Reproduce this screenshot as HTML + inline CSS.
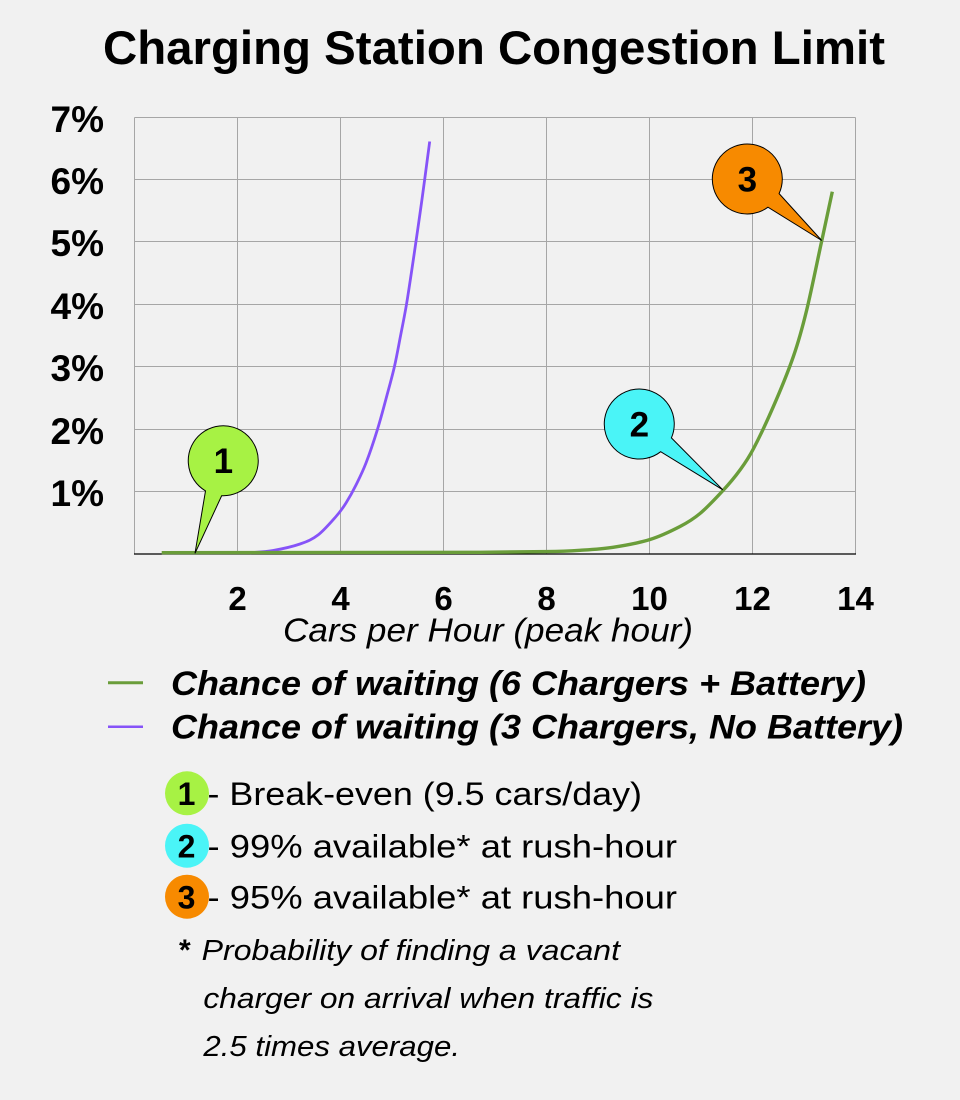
<!DOCTYPE html>
<html>
<head>
<meta charset="utf-8">
<style>
html,body{margin:0;padding:0;background:#f1f1f1;}
svg{display:block;}
text{font-family:"Liberation Sans",Arial,sans-serif;fill:#000;}
</style>
</head>
<body>
<svg width="960" height="1100" viewBox="0 0 960 1100" xmlns="http://www.w3.org/2000/svg">
<rect x="0" y="0" width="960" height="1100" fill="#f1f1f1"/>

<!-- Title -->
<text x="103" y="64" font-size="47" font-weight="bold" textLength="782" lengthAdjust="spacingAndGlyphs">Charging Station Congestion Limit</text>

<!-- Grid -->
<g stroke="#a6a6a6" stroke-width="1" fill="none">
  <line x1="134.5" y1="117.5" x2="134.5" y2="554"/>
  <line x1="237.5" y1="117.5" x2="237.5" y2="554"/>
  <line x1="340.5" y1="117.5" x2="340.5" y2="554"/>
  <line x1="443.5" y1="117.5" x2="443.5" y2="554"/>
  <line x1="546.5" y1="117.5" x2="546.5" y2="554"/>
  <line x1="649.5" y1="117.5" x2="649.5" y2="554"/>
  <line x1="752.5" y1="117.5" x2="752.5" y2="554"/>
  <line x1="855.5" y1="117.5" x2="855.5" y2="554"/>
  <line x1="134.5" y1="117.5" x2="855.5" y2="117.5"/>
  <line x1="134.5" y1="179.5" x2="855.5" y2="179.5"/>
  <line x1="134.5" y1="241.5" x2="855.5" y2="241.5"/>
  <line x1="134.5" y1="304.5" x2="855.5" y2="304.5"/>
  <line x1="134.5" y1="366.5" x2="855.5" y2="366.5"/>
  <line x1="134.5" y1="429.5" x2="855.5" y2="429.5"/>
  <line x1="134.5" y1="491.5" x2="855.5" y2="491.5"/>
</g>
<line x1="134" y1="554" x2="856" y2="554" stroke="#000" stroke-width="1.2"/>

<!-- Y labels -->
<g font-size="37" font-weight="bold" text-anchor="end">
  <text x="104" y="132">7%</text>
  <text x="104" y="194">6%</text>
  <text x="104" y="256">5%</text>
  <text x="104" y="319">4%</text>
  <text x="104" y="381">3%</text>
  <text x="104" y="444">2%</text>
  <text x="104" y="506">1%</text>
</g>

<!-- X labels -->
<g font-size="33" font-weight="bold" text-anchor="middle">
  <text x="237.5" y="610">2</text>
  <text x="340.5" y="610">4</text>
  <text x="443.5" y="610">6</text>
  <text x="546.5" y="610">8</text>
  <text x="649.5" y="610">10</text>
  <text x="752.5" y="610">12</text>
  <text x="855.5" y="610">14</text>
</g>
<text x="283" y="641.7" font-size="33" font-style="italic" textLength="410" lengthAdjust="spacingAndGlyphs">Cars per Hour (peak hour)</text>

<!-- Series -->
<path fill="none" stroke="#8653f8" stroke-width="2.8" stroke-linejoin="round"
  d="M250,552.7 C253.8,552.3 264.7,551.95 273,550.5 C281.3,549.05 292.5,546.6 300,544 C307.5,541.4 312,539.6 318,535 C324,530.4 331.3,521.8 336,516.5 C340.7,511.2 342.7,508.25 346,503 C349.3,497.75 352.7,491.7 356,485 C359.3,478.3 362.4,472.3 366,463 C369.6,453.7 374.1,440.3 377.5,429.3 C380.9,418.3 383.7,407.5 386.5,397 C389.3,386.5 392.2,376.5 394.5,366.3 C396.8,356.1 398.5,346.3 400.5,336 C402.5,325.7 404.7,315 406.5,304.3 C408.3,293.6 409.9,282.5 411.5,272 C413.1,261.5 414.5,251.6 416,241.3 C417.5,231 419.05,220.3 420.5,210 C421.95,199.7 423.2,190.7 424.7,179.3 C426.2,167.9 428.9,147.8 429.7,141.5"/>
<path fill="none" stroke="#6a9d3a" stroke-width="3.4" stroke-linejoin="round"
  d="M161.7,552.7 L480,552.3 C513,552.1 530,551.9 546.7,551.6 C563.4,551.3 569,551.0 580,550.3 C591.1,549.6 601.3,549.1 613,547.3 C624.7,545.5 638.8,543.0 650,539.5 C661.2,536.0 671.7,530.8 680,526.5 C688.3,522.2 692.8,519.5 700,513.5 C707.2,507.5 716.3,497.75 723,490.5 C729.7,483.25 735.0,476.9 740,470 C745.05,463.1 747.75,459.55 753.3,449 C758.85,438.45 766.6,422.1 773.3,406.7 C780,391.3 787.7,372.8 793.3,356.7 C798.9,340.6 802.0,329.3 806.7,310 C811.4,290.7 817.4,260.7 821.7,241 C826.0,221.3 830.5,199.9 832.3,191.7"/>

<!-- Callouts -->
<path d="M 205.5 490.9 A 35 35 0 1 1 221.7 495.7 L 195 553.3 Z" fill="#a7f244" stroke="#000" stroke-width="1"/>
<text x="223.3" y="473" font-size="35" font-weight="bold" text-anchor="middle">1</text>

<path d="M 660.7 451.7 A 35 35 0 1 1 671.4 437.9 L 722.8 489.8 Z" fill="#4af4f7" stroke="#000" stroke-width="1"/>
<text x="639.3" y="436.5" font-size="35" font-weight="bold" text-anchor="middle">2</text>

<path d="M 768 207.2 A 35 35 0 1 1 779.1 193.6 L 821.7 240.5 Z" fill="#f78a00" stroke="#000" stroke-width="1"/>
<text x="747.3" y="191.5" font-size="35" font-weight="bold" text-anchor="middle">3</text>

<!-- Legend -->
<line x1="108" y1="682.7" x2="143" y2="682.7" stroke="#6a9d3a" stroke-width="3"/>
<line x1="108" y1="726.7" x2="143" y2="726.7" stroke="#8653f8" stroke-width="2.5"/>
<text x="171" y="695" font-size="34" font-weight="bold" font-style="italic" textLength="695" lengthAdjust="spacingAndGlyphs">Chance of waiting (6 Chargers + Battery)</text>
<text x="171" y="738.3" font-size="34" font-weight="bold" font-style="italic" textLength="732" lengthAdjust="spacingAndGlyphs">Chance of waiting (3 Chargers, No Battery)</text>

<!-- Numbered notes -->
<circle cx="187" cy="793.3" r="22" fill="#a7f244"/>
<text x="186.5" y="805" font-size="32" font-weight="bold" text-anchor="middle">1</text>
<circle cx="187" cy="845.7" r="22" fill="#4af4f7"/>
<text x="186.5" y="857.5" font-size="32" font-weight="bold" text-anchor="middle">2</text>
<circle cx="187" cy="896.7" r="22" fill="#f78a00"/>
<text x="186.5" y="908.3" font-size="32" font-weight="bold" text-anchor="middle">3</text>

<text x="207.5" y="805" font-size="32" textLength="434.5" lengthAdjust="spacingAndGlyphs">- Break-even (9.5 cars/day)</text>
<text x="207.5" y="857.7" font-size="32" textLength="469.5" lengthAdjust="spacingAndGlyphs">- 99% available* at rush-hour</text>
<text x="207.5" y="908.3" font-size="32" textLength="469.5" lengthAdjust="spacingAndGlyphs">- 95% available* at rush-hour</text>

<!-- Footnote -->
<text x="179" y="960" font-size="30" font-weight="bold">*</text>
<text x="201.7" y="960" font-size="29" font-style="italic" textLength="418.3" lengthAdjust="spacingAndGlyphs">Probability of finding a vacant</text>
<text x="203.4" y="1008" font-size="29" font-style="italic" textLength="450" lengthAdjust="spacingAndGlyphs">charger on arrival when traffic is</text>
<text x="203.4" y="1056" font-size="29" font-style="italic" textLength="256.6" lengthAdjust="spacingAndGlyphs">2.5 times average.</text>
</svg>
</body>
</html>
